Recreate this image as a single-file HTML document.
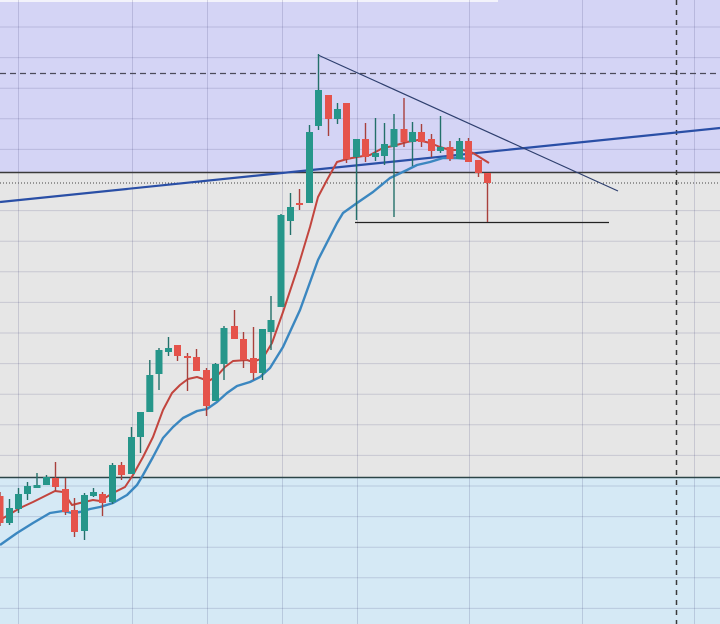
<!DOCTYPE html>
<html><head><meta charset="utf-8"><style>
html,body{margin:0;padding:0;background:#e6e6e6;}
svg{display:block;}
</style></head><body>
<svg width="720" height="624" viewBox="0 0 720 624" xmlns="http://www.w3.org/2000/svg">
<!-- zones -->
<rect x="0" y="0" width="720" height="172" fill="#d4d4f5"/>
<rect x="0" y="172" width="720" height="305" fill="#e6e6e6"/>
<rect x="0" y="477" width="720" height="147" fill="#d5e9f5"/>
<rect x="0" y="0" width="498" height="2" fill="#f3f3fb"/>
<!-- grid -->
<g stroke="rgba(40,40,100,0.16)" stroke-width="1">
<line x1="0" y1="27" x2="720" y2="27"/>
<line x1="0" y1="57.6" x2="720" y2="57.6"/>
<line x1="0" y1="88.2" x2="720" y2="88.2"/>
<line x1="0" y1="118.8" x2="720" y2="118.8"/>
<line x1="0" y1="149.4" x2="720" y2="149.4"/>
<line x1="0" y1="210.6" x2="720" y2="210.6"/>
<line x1="0" y1="241.2" x2="720" y2="241.2"/>
<line x1="0" y1="271.8" x2="720" y2="271.8"/>
<line x1="0" y1="302.4" x2="720" y2="302.4"/>
<line x1="0" y1="333" x2="720" y2="333"/>
<line x1="0" y1="363.6" x2="720" y2="363.6"/>
<line x1="0" y1="394.2" x2="720" y2="394.2"/>
<line x1="0" y1="424.8" x2="720" y2="424.8"/>
<line x1="0" y1="455.4" x2="720" y2="455.4"/>
<line x1="0" y1="486" x2="720" y2="486"/>
<line x1="0" y1="516.6" x2="720" y2="516.6"/>
<line x1="0" y1="547.2" x2="720" y2="547.2"/>
<line x1="0" y1="577.8" x2="720" y2="577.8"/>
<line x1="0" y1="608.4" x2="720" y2="608.4"/>
<line x1="18.5" y1="0" x2="18.5" y2="624"/>
<line x1="132.5" y1="0" x2="132.5" y2="624"/>
<line x1="207.5" y1="0" x2="207.5" y2="624"/>
<line x1="282.5" y1="0" x2="282.5" y2="624"/>
<line x1="357.5" y1="0" x2="357.5" y2="624"/>
<line x1="469.5" y1="0" x2="469.5" y2="624"/>
<line x1="582.5" y1="0" x2="582.5" y2="624"/>
<line x1="694.5" y1="0" x2="694.5" y2="624"/>
</g>
<!-- zone borders -->
<line x1="0" y1="172.5" x2="720" y2="172.5" stroke="#3a3a3a" stroke-width="1.5"/>
<line x1="0" y1="477.5" x2="720" y2="477.5" stroke="#2c4548" stroke-width="1.5"/>
<!-- dashed/dotted -->
<line x1="0" y1="73.5" x2="720" y2="73.5" stroke="#4a4a5a" stroke-width="1.2" stroke-dasharray="6,4"/>
<line x1="0" y1="183" x2="720" y2="183" stroke="#444" stroke-width="1" stroke-dasharray="1,2"/>
<line x1="676.5" y1="0" x2="676.5" y2="624" stroke="#3a3a3a" stroke-width="1.5" stroke-dasharray="5,5"/>
<!-- trend lines -->
<line x1="0" y1="202" x2="720" y2="128" stroke="#2a4fa6" stroke-width="2.2"/>
<line x1="318" y1="55" x2="618" y2="191" stroke="#2e3f6e" stroke-width="1.2"/>
<line x1="355" y1="222.5" x2="609" y2="222.5" stroke="#222" stroke-width="1.3"/>
<!-- moving averages -->
<polyline fill="none" stroke="#3b87c0" stroke-width="2.4" stroke-linejoin="round" points="0,545 17,533 33,523 50,513 63,511 72,513 80,512 90,509 100,507 113,503 127,495 137,485 143,475 153,457 163,438 173,427 183,418 197,411 207,409 217,402 227,393 237,386 250,382 260,377 270,368 283,347 300,310 318,260 337,223 343,213 357,203 373,192 390,178 407,170 417,165 430,162 443,158 457,158 470,159"/>
<polyline fill="none" stroke="#c2453e" stroke-width="2" stroke-linejoin="round" points="0,520 20,508 33,502 45,496 55,491 63,492 72,505 80,503 93,500 100,501 113,493 125,487 133,475 143,457 153,437 163,410 172,393 180,385 188,379 197,377 203,379 207,382 217,376 225,367 233,361 247,360 253,362 263,358 272,343 283,312 298,267 310,227 318,197 327,180 337,162 347,159 357,157 370,155 383,148 393,146 407,142 418,140 430,143 440,147 450,150 463,150 473,153 489,163"/>
<!-- candles -->
<g id="c"></g>
</svg>
<script>
var G="#26968a",R="#e5534b",GW="#23706a",RW="#a8403c";
var d=[
[0,"R",496,523,492,526],[9.5,"G",508,523,499,525],[18.5,"G",494,509,488,513],[27.5,"G",486,494,482,500],
[37,"G",485,488,473,488],[46.5,"G",477,485,475,485],[55.5,"R",478,487,462,491],[65.5,"R",489,512,478,515],
[74.5,"R",510,532,498,537],[84.5,"G",495,531,493,540],[93.5,"G",492,496,488,497],[102.5,"R",494,503,492,516],
[112.5,"G",465,502,463,504],[121.5,"R",465,475,462,480],[131.5,"G",437,474,427,474],[140.5,"G",412,437,412,453],
[149.8,"G",375,412,360,412],[159,"G",350,374,348,390],[168.5,"G",348,352,337,356],[177.5,"R",345,356,345,361],
[187.5,"R",356,358,353,391],[196.5,"R",357,371,349,371],[206.5,"R",370,406,368,416],[215.5,"G",364,401,363,401],
[224,"G",328,364,326,380],[234.5,"R",326,339,310,339],[243.5,"R",339,360,332,368],[253.5,"R",358,373,327,380],
[262.5,"G",329,373,329,380],[271,"G",320,332,296,350],[281,"G",215,307,214,307],[290.5,"G",207,221,193,235],
[299.5,"R",203,205,189,210],[309.5,"G",132,203,125,203],[318.5,"G",90,126,54,130],[328.5,"R",95,119,95,136],
[337.5,"G",109,119,103,124],[346.5,"R",103,159,103,163],[356.5,"G",139,157,139,220],[365.5,"R",139,157,123,162],
[375.5,"G",153,157,118,161],[384.5,"G",144,156,123,165],[394,"G",129,147,114,217],[404,"R",129,142,98,147],
[412.5,"G",132,142,122,166],[421.5,"R",132,142,124,147],[431.5,"R",139,151,134,157],[440.5,"G",147,151,116,153],
[450,"R",147,159,141,161],[459.5,"G",141,159,138,159],[468.5,"R",141,162,138,162],[478.5,"R",160,173,160,177],
[487.5,"R",173,183,173,222]];
var s="";
d.forEach(function(c){var x=c[0],col=c[1]=="G"?G:R,w=c[1]=="G"?GW:RW;
s+='<line x1="'+x+'" y1="'+c[4]+'" x2="'+x+'" y2="'+c[5]+'" stroke="'+w+'" stroke-width="1.4"/>';
var h=Math.max(c[3]-c[2],2);
s+='<rect x="'+(x-3.5)+'" y="'+c[2]+'" width="7" height="'+h+'" fill="'+col+'"/>';});
document.getElementById("c").innerHTML=s;
</script>
</body></html>
